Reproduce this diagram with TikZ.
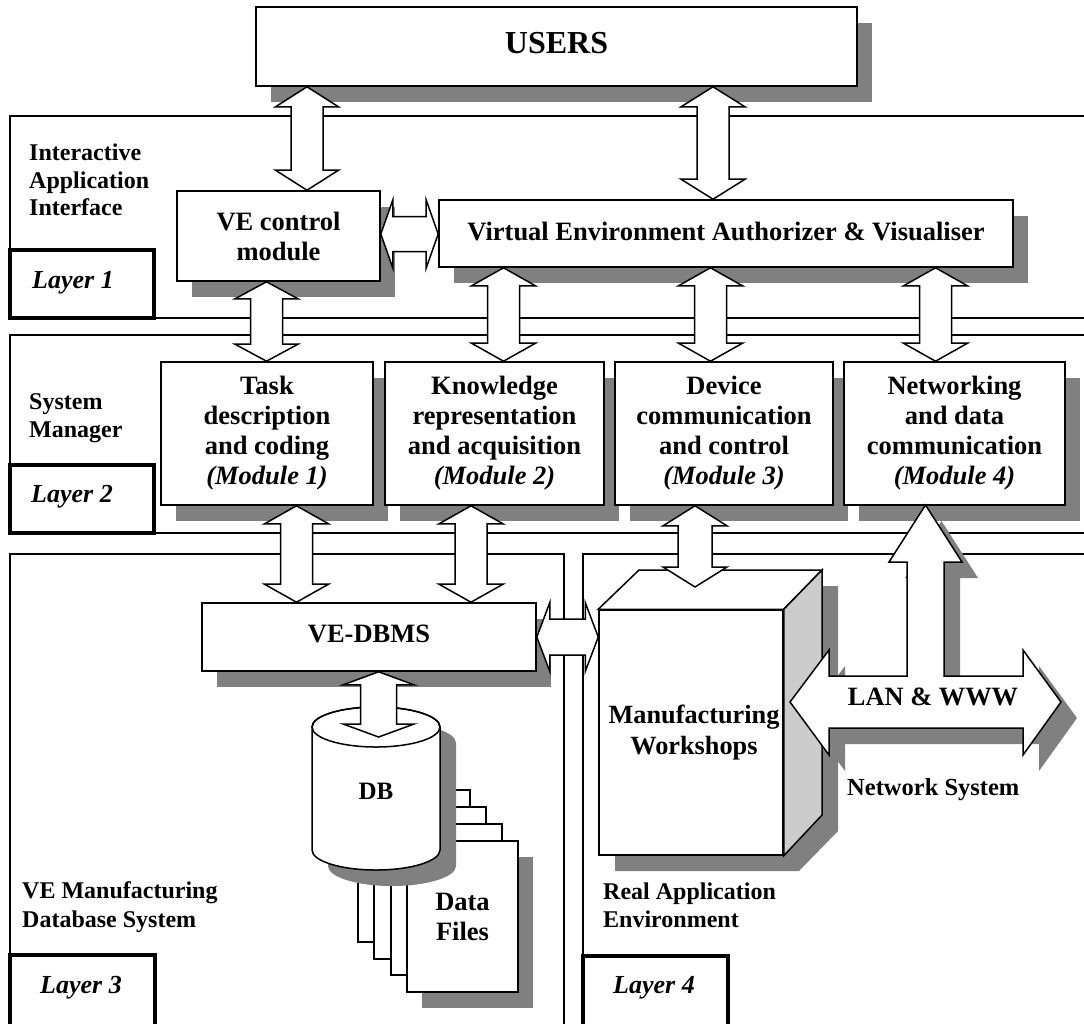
\documentclass[tikz,border=0pt]{standalone}
\usepackage{fontspec}
\setmainfont{Liberation Serif}
\usetikzlibrary{calc}
\definecolor{shgray}{HTML}{808080}
\definecolor{sidegray}{HTML}{CCCCCC}
\tikzset{
  frame/.style={line width=1.2pt},
  sbox/.style={draw, fill=white, line width=1.6pt, inner sep=0pt, align=center,
    font=\fontsize{26.5}{30}\selectfont\bfseries,
    preaction={draw=none, fill=shgray, transform canvas={shift={(15pt,-16pt)}}}},
  layerbox/.style={draw, fill=white, line width=3.5pt, inner sep=0pt},
  layertext/.style={anchor=base west, inner sep=0pt, font=\fontsize{26}{30}\selectfont\bfseries\itshape},
  sidelabel/.style={anchor=base west, inner sep=0pt, font=\fontsize{24}{27.5}\selectfont\bfseries},
  barrow/.style={draw, fill=white, line width=1.5pt, line join=miter},
  pagebox/.style={draw, fill=white, line width=1.5pt},
  solid1/.style={draw, line width=1.5pt},
}
% vertical double block arrow: #1 top point, #2 bottom point, #3 shaft half width, #4 head half width, #5 head length
\newcommand\vdarr[5]{%
  \path[barrow] let \p1=#1, \p2=#2 in
   (\x1,\y1) -- ({\x1+#4pt},{\y1-#5pt}) -- ({\x1+#3pt},{\y1-#5pt}) -- ({\x1+#3pt},{\y2+#5pt})
   -- ({\x1+#4pt},{\y2+#5pt}) -- (\x1,\y2) -- ({\x1-#4pt},{\y2+#5pt}) -- ({\x1-#3pt},{\y2+#5pt})
   -- ({\x1-#3pt},{\y1-#5pt}) -- ({\x1-#4pt},{\y1-#5pt}) -- cycle;}
% horizontal double block arrow: #1 left point, #2 right point
\newcommand\hdarr[5]{%
  \path[barrow] let \p1=#1, \p2=#2 in
   (\x1,\y1) -- ({\x1+#5pt},{\y1+#4pt}) -- ({\x1+#5pt},{\y1+#3pt}) -- ({\x2-#5pt},{\y1+#3pt})
   -- ({\x2-#5pt},{\y1+#4pt}) -- (\x2,\y1) -- ({\x2-#5pt},{\y1-#4pt}) -- ({\x2-#5pt},{\y1-#3pt})
   -- ({\x1+#5pt},{\y1-#3pt}) -- ({\x1+#5pt},{\y1-#4pt}) -- cycle;}
\begin{document}
\begin{tikzpicture}[x=1pt,y=-1pt]
\useasboundingbox[fill=white] (0,0) rectangle (1084,1023);
% ---------- layer frames
\draw[frame] (1090,116) -- (10,116) -- (10,318) -- (1090,318);
\draw[frame] (1090,335) -- (10,335) -- (10,533) -- (1090,533);
\draw[frame] (10,1030) -- (10,554) -- (564,554) -- (564,1030);
\draw[frame] (583,1030) -- (583,554) -- (1090,554);
% ---------- layer boxes
\node[layerbox, minimum width=144pt, minimum height=68pt] (lb1) at (82,284) {};
\node[layerbox, minimum width=144pt, minimum height=68pt] (lb2) at (82,499) {};
\node[layerbox, minimum width=145pt, minimum height=71pt] (lb3) at (82.5,990.5) {};
\node[layerbox, minimum width=145pt, minimum height=70pt] (lb4) at (655.5,991) {};
\node[layertext] (lt1) at (32,288) {Layer 1};
\node[layertext] (lt2) at (31,502) {Layer 2};
\node[layertext] (lt3) at (40,993) {Layer 3};
\node[layertext] (lt4) at (613,993) {Layer 4};
% ---------- side labels
\node[sidelabel] (s1a) at (29,160) {Interactive};
\node[sidelabel] (s1b) at (29,188) {Application};
\node[sidelabel] (s1c) at (29,215) {Interface};
\node[sidelabel] (s2a) at (29,409) {System};
\node[sidelabel] (s2b) at (29,437) {Manager};
\node[sidelabel] (s3a) at (22,898) {VE Manufacturing};
\node[sidelabel] (s3b) at (22,927) {Database System};
\node[sidelabel] (s4a) at (603,899) {Real Application};
\node[sidelabel] (s4b) at (603,927) {Environment};
\node[sidelabel, font=\fontsize{24.5}{28}\selectfont\bfseries] (s5) at (847,795) {Network System};
% ---------- boxes
\node[sbox, minimum width=601pt, minimum height=79pt, font=\fontsize{32}{36}\selectfont\bfseries] (users) at (556.5,46.5) {\raisebox{7pt}{USERS}};
\node[sbox, minimum width=203pt, minimum height=90pt] (vec) at (278.5,236) {VE control\\module};
\node[sbox, minimum width=574pt, minimum height=67pt] (veav) at (726,233.5) {\raisebox{5pt}{Virtual Environment Authorizer \& Visualiser}};
\node[sbox, minimum width=212pt, minimum height=143pt] (m1) at (267,433.5) {Task\\description\\and coding\\\textit{(Module 1)}};
\node[sbox, minimum width=219pt, minimum height=143pt] (m2) at (494.5,433.5) {Knowledge\\representation\\and acquisition\\\textit{(Module 2)}};
\node[sbox, minimum width=218pt, minimum height=143pt] (m3) at (724,433.5) {Device\\communication\\and control\\\textit{(Module 3)}};
\node[sbox, minimum width=221pt, minimum height=143pt] (m4) at (954.5,433.5) {Networking\\and data\\communication\\\textit{(Module 4)}};
\node[sbox, minimum width=334pt, minimum height=68pt] (dbms) at (369,637) {\raisebox{6pt}{VE-DBMS}};
% ---------- data files
\draw[pagebox] (358,790) rectangle (470,942);
\draw[pagebox] (374,807) rectangle (486,959);
\draw[pagebox] (391,824) rectangle (502,975);
\node[sbox, minimum width=111pt, minimum height=151pt] (files) at (462.5,916.5) {Data\\Files};
% ---------- DB cylinder
\fill[shgray] (328,743) -- (328,866) arc[start angle=180,end angle=360,x radius=64pt,y radius=20pt] -- (456,743) arc[start angle=0,end angle=180,x radius=64pt,y radius=20pt] -- cycle;
\draw[pagebox] (312,727) -- (312,850) arc[start angle=180,end angle=360,x radius=64pt,y radius=20pt] -- (440,727) arc[start angle=0,end angle=180,x radius=64pt,y radius=20pt] -- cycle;
\coordinate (dbc) at (376,727);
\draw[solid1] (dbc) ellipse[x radius=64pt,y radius=20pt];
\node[inner sep=0pt, font=\fontsize{25}{28}\selectfont\bfseries] (db) at (376,791) {DB};
% ---------- manufacturing cube
\fill[shgray] (615,626) -- (655,586) -- (838,586) -- (838,831) -- (799,871) -- (615,871) -- cycle;
\node[draw, fill=white, line width=1.5pt, minimum width=184pt, minimum height=245pt, inner sep=0pt, align=center,
  font=\fontsize{26.3}{31}\selectfont\bfseries] (mw) at (691,732.5) {\hspace*{6pt}Manufacturing\\\hspace*{6pt}Workshops};
\draw[pagebox] (mw.north west) -- (639,570) -- (822,570) -- (mw.north east) -- cycle;
\draw[pagebox, fill=sidegray] (mw.north east) -- (822,570) -- (822,815) -- (mw.south east) -- cycle;
% ---------- LAN & WWW arrow with branch to module 4
\coordinate (lantip) at (925.5,505);
\path[barrow, preaction={draw=none, fill=shgray, transform canvas={shift={(16pt,-16pt)}}}]
  (790,702) -- (829,650) -- (829,676) -- (907,676) -- (907,562) -- (889,562) -- (lantip)
  -- (962,562) -- (944,562) -- (944,676) -- (1023,676) -- (1023,650) -- (1061,702)
  -- (1023,755) -- (1023,728) -- (829,728) -- (829,755) -- cycle;
\node[anchor=base, inner sep=0pt, font=\fontsize{26.4}{30}\selectfont\bfseries] (lan) at (933,705) {LAN \& WWW};
% ---------- block arrows
\coordinate (xa1) at (307,0);
\coordinate (xa2) at (713,0);
\coordinate (xa4) at (266.5,0);
\coordinate (xa5) at (503.5,0);
\coordinate (xa6) at (710.5,0);
\coordinate (xa7) at (935.5,0);
\coordinate (xa8) at (296.5,0);
\coordinate (xa9) at (471,0);
\coordinate (xa11) at (695,0);
\coordinate (xa12) at (378.6,0);
\coordinate (cubetop) at (695,587);
\coordinate (dbtop) at (378.6,737);
\coordinate (hy1) at (0,234);
\coordinate (hy2) at (0,637);
\vdarr{(users.south -| xa1)}{(vec.north -| xa1)}{16}{31.5}{20}
\vdarr{(users.south -| xa2)}{(veav.north -| xa2)}{16}{32}{20}
\vdarr{(vec.south -| xa4)}{(m1.north -| xa4)}{16}{31.5}{17}
\vdarr{(veav.south -| xa5)}{(m2.north -| xa5)}{16}{32}{18}
\vdarr{(veav.south -| xa6)}{(m3.north -| xa6)}{16}{32}{18}
\vdarr{(veav.south -| xa7)}{(m4.north -| xa7)}{16}{32}{18}
\vdarr{(m1.south -| xa8)}{(dbms.north -| xa8)}{16}{32}{18}
\vdarr{(m2.south -| xa9)}{(dbms.north -| xa9)}{16}{32}{18}
\vdarr{(m3.south -| xa11)}{(cubetop)}{17}{32}{20}
\vdarr{(dbms.south -| xa12)}{(dbtop)}{18}{35.5}{13}
\hdarr{(vec.east |- hy1)}{(veav.west |- hy1)}{17.5}{34}{12}
\hdarr{(dbms.east |- hy2)}{(mw.west |- hy2)}{18}{34.5}{13}
\end{tikzpicture}
\end{document}
